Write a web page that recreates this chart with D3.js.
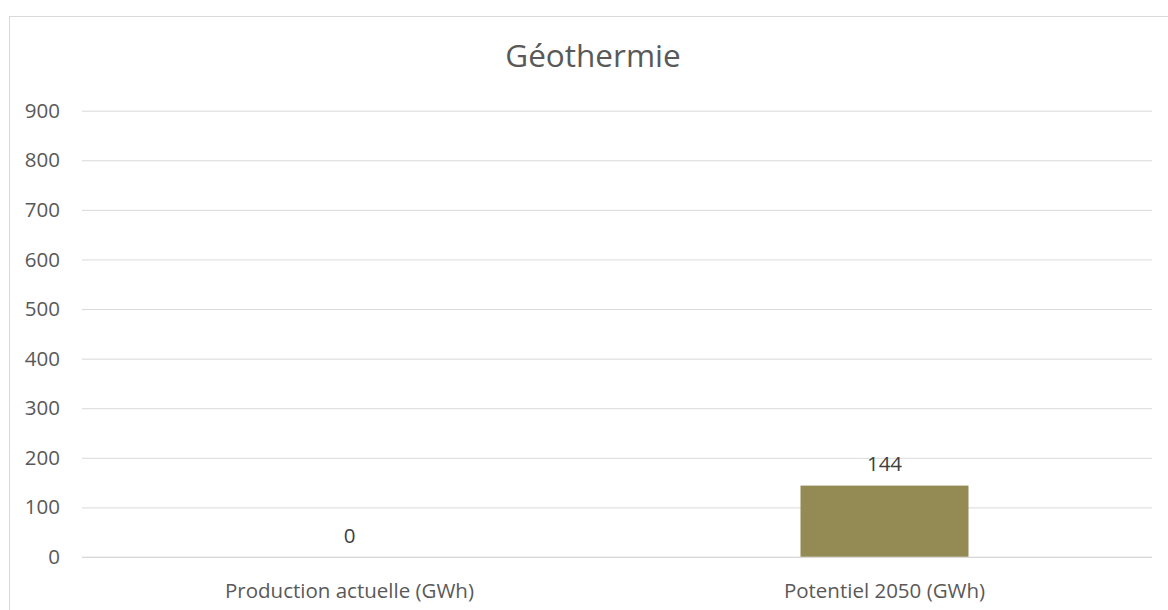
<!DOCTYPE html>
<html>
<head>
<meta charset="utf-8">
<script src="https://cdn.jsdelivr.net/npm/d3@7"></script>
<style>
  html, body { margin: 0; padding: 0; background: #fff; }
  svg { display: block; font-family: "Open Sans", sans-serif; }
</style>
</head>
<body>
<svg id="chart" width="1168" height="610"></svg>
<script>
const title = "Géothermie";
const categories = ["Production actuelle (GWh)", "Potentiel 2050 (GWh)"];
const values = [0, 144];
const yTicks = [0, 100, 200, 300, 400, 500, 600, 700, 800, 900];

const svg = d3.select("#chart");

// chart border
svg.append("rect")
  .attr("x", 9.5).attr("y", 16.5)
  .attr("width", 1200).attr("height", 700)
  .attr("fill", "#fff").attr("stroke", "#d9d9d9").attr("stroke-width", 1);

const x = d3.scaleBand().domain(categories).range([82, 1152])
  .paddingInner(0.686).paddingOuter(0.343);
const y = d3.scaleLinear().domain([0, 900]).range([557, 110.7]);

// title
svg.append("text")
  .attr("x", 593).attr("y", 67)
  .attr("text-anchor", "middle")
  .attr("font-size", 31.5).attr("fill", "#595959")
  .text(title);

// gridlines + y tick labels
const yAxis = d3.axisLeft(y).tickValues(yTicks).tickSize(-(1152 - 82)).tickPadding(22)
  .tickFormat(d3.format("d"));
const gy = svg.append("g").attr("transform", "translate(82,0)").call(yAxis);
gy.select(".domain").remove();
gy.selectAll(".tick line").attr("stroke", "#d9d9d9").attr("stroke-width", 1);
gy.selectAll(".tick text").attr("font-size", 20.5).attr("fill", "#595959")
  .attr("font-family", "Open Sans, sans-serif");

// bars
svg.append("g").selectAll("rect").data(values).join("rect")
  .attr("x", (d, i) => x(categories[i]))
  .attr("width", x.bandwidth())
  .attr("y", d => y(d))
  .attr("height", d => y(0) - y(d))
  .attr("fill", "#948A54");

// baseline over bars
svg.append("line")
  .attr("x1", 82).attr("x2", 1152)
  .attr("y1", y(0)).attr("y2", y(0))
  .attr("stroke", "#d9d9d9").attr("stroke-opacity", 0.7).attr("stroke-width", 1);

// data labels
svg.append("g").selectAll("text").data(values).join("text")
  .attr("x", (d, i) => x(categories[i]) + x.bandwidth() / 2)
  .attr("y", d => y(d) - 14.5)
  .attr("text-anchor", "middle")
  .attr("font-size", 20.5).attr("fill", "#404040")
  .text(d => d);

// category labels
const xAxis = d3.axisBottom(x).tickSize(0).tickPadding(0);
const gx = svg.append("g").call(xAxis);
gx.select(".domain").remove();
gx.selectAll(".tick text")
  .attr("y", 597.5).attr("dy", null)
  .attr("font-size", 20.5).attr("fill", "#595959")
  .attr("font-family", "Open Sans, sans-serif");
</script>
</body>
</html>
